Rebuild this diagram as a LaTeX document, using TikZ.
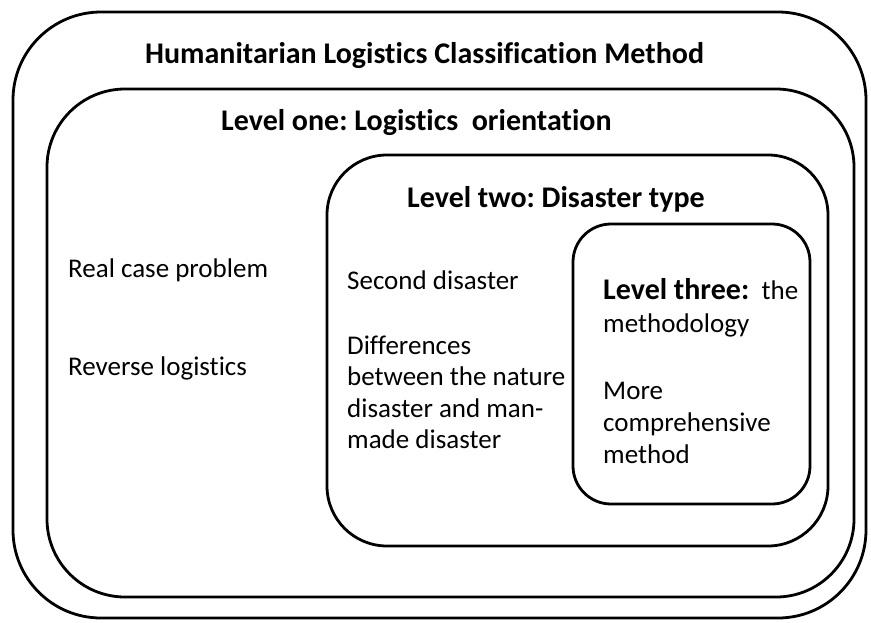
\documentclass[tikz,border=0pt]{standalone}
\usepackage{fontspec}
\setmainfont{Carlito}[Ligatures=NoCommon]
\frenchspacing
\begin{document}
\begin{tikzpicture}[x=1pt,y=-1pt,
  levelbox/.style={draw=black,line width=2.8pt},
  title/.style={inner sep=0pt,anchor=base west,font=\fontsize{30}{36}\selectfont\bfseries},
  body/.style={inner sep=0pt,anchor=base west,font=\fontsize{27}{32}\selectfont}
]
\useasboundingbox (0,0) rectangle (871,622);
% boxes
\draw[levelbox,rounded corners=88pt] (13,12) rectangle (866,618);
\draw[levelbox,rounded corners=78pt] (47,89) rectangle (854,597);
\draw[levelbox,rounded corners=60pt] (327,155) rectangle (828,546);
\draw[levelbox,rounded corners=38pt] (573,224) rectangle (810,504);
% titles
\node[title] (t0) at (145,63) {Humanitarian Logistics Classification Method};
\node[title] (t1) at (221,130) {Level one: Logistics\ \ orientation};
\node[title] (t2) at (407,207) {Level two: Disaster type};
% level one items
\node[body] (a1) at (68,277) {Real case problem};
\node[body] (a2) at (68,375) {Reverse logistics};
% level two items
\node[body] (b1) at (347,289) {Second disaster};
\node[body] (b2a) at (347,354) {Differences};
\node[body] (b2b) at (347,385) {between the nature};
\node[body] (b2c) at (347,417) {disaster and man-};
\node[body] (b2d) at (347,448) {made disaster};
% level three items
\node[body] (c1a) at (603,299) {{\fontsize{30}{36}\selectfont\bfseries Level three:}\ \ the};
\node[body] (c1b) at (603,332) {methodology};
\node[body] (c2a) at (603,399) {More};
\node[body] (c2b) at (603,431) {comprehensive};
\node[body] (c2c) at (603,463) {method};
\end{tikzpicture}
\end{document}
